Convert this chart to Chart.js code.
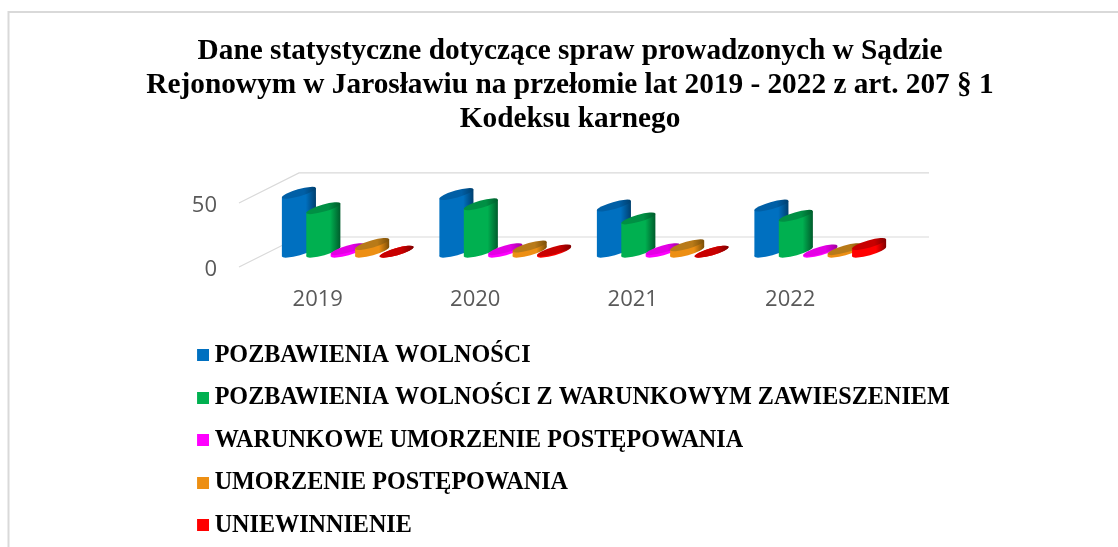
<!DOCTYPE html>
<html><head><meta charset="utf-8">
<style>html,body{margin:0;padding:0;background:#fff}canvas{display:block}</style>
<script src="https://cdn.jsdelivr.net/npm/chart.js@4"></script>
</head><body><canvas id="c" width="1118" height="547"></canvas>
<script>
const categories = ['2019','2020','2021','2022'];
const seriesNames = ['POZBAWIENIA WOLNOŚCI','POZBAWIENIA WOLNOŚCI Z WARUNKOWYM ZAWIESZENIEM','WARUNKOWE UMORZENIE POSTĘPOWANIA','UMORZENIE POSTĘPOWANIA','UNIEWINNIENIE'];
const pozbawienia = [46,45,36,36];
const warunkowe = [34,37,26,28];
const warunkoweUmorzenie = [2,2,2,1];
const umorzenie = [6,4,5,2];
const uniewinnienie = [0,1,0,6];
const values = [pozbawienia,warunkowe,warunkoweUmorzenie,umorzenie,uniewinnienie];
const colors = ['#0070C0','#00B050','#FF00FF','#ED8F13','#FF0000'];
const tops = ['#005FA6','#009044','#E400E4','#B87A18','#C80000'];
const darks = ['#003F6E','#005C2C','#A000A0','#7A4E08','#800000'];
const titleLines = ['Dane statystyczne dotyczące spraw prowadzonych w Sądzie','Rejonowym w Jarosławiu na przełomie lat 2019 - 2022 z art. 207 § 1','Kodeksu karnego'];

const DEPTH_X = 60, DEPTH_Y = -30, MID_X = 30, MID_Y = -15.3, TILT = -16 * Math.PI / 180, MINOR = 3.6;

const marks = colors.map(col => {
  const m = document.createElement('canvas');
  m.width = 14; m.height = 12;
  const g = m.getContext('2d'); g.fillStyle = col; g.fillRect(2,0,12,12);
  return m;
});

function ellipse(ctx,x,y,a){ctx.beginPath();ctx.ellipse(x,y,a,MINOR,TILT,0,Math.PI*2);}

const wall3d = {
  id:'wall3d',
  beforeDraw(chart){
    const ctx = chart.ctx;
    ctx.save();
    ctx.strokeStyle='#D9D9D9';ctx.lineWidth=2;
    ctx.beginPath();ctx.moveTo(8.5,547);ctx.lineTo(8.5,12);ctx.lineTo(1118,12);ctx.stroke();
    ctx.restore();
  },
  beforeDatasetDraw(){return false;},
  beforeDatasetsDraw(chart){
    const ctx = chart.ctx, {left,right} = chart.chartArea, y = chart.scales.y;
    ctx.save();
    ctx.strokeStyle='#D9D9D9';ctx.lineWidth=1.2;
    y.ticks.forEach(t=>{
      const p = y.getPixelForValue(t.value);
      ctx.beginPath();
      ctx.moveTo(left,p);
      ctx.lineTo(left+DEPTH_X,p+DEPTH_Y);
      ctx.lineTo(right+DEPTH_X,p+DEPTH_Y);
      ctx.stroke();
    });
    ctx.restore();
  },
  afterDatasetsDraw(chart){
    const ctx = chart.ctx;
    const cos = Math.cos(TILT), sin = Math.sin(TILT);
    categories.forEach((_,j)=>{
      values.forEach((__,i)=>{
        const el = chart.getDatasetMeta(i).data[j];
        const a = el.width/2;
        const x = el.x+MID_X, yb = el.base+MID_Y, yt = el.y+MID_Y;
        const hw = Math.sqrt(a*a*cos*cos+MINOR*MINOR*sin*sin);
        const off = (a*a-MINOR*MINOR)*sin*cos/hw;
        const g = ctx.createLinearGradient(x-hw,0,x+hw,0);
        g.addColorStop(0,colors[i]);
        g.addColorStop(0.7,colors[i]);
        g.addColorStop(1,darks[i]);
        ctx.save();
        ctx.fillStyle=g;
        ellipse(ctx,x,yb,a);ctx.fill();
        ctx.beginPath();
        ctx.moveTo(x-hw,yb-off);ctx.lineTo(x-hw,yt-off);
        ctx.lineTo(x+hw,yt+off);ctx.lineTo(x+hw,yb+off);
        ctx.closePath();ctx.fill();
        const tg = ctx.createLinearGradient(x-hw,0,x+hw,0);
        tg.addColorStop(0,tops[i]);
        tg.addColorStop(0.65,tops[i]);
        tg.addColorStop(1,darks[i]);
        ctx.fillStyle=tg;
        ellipse(ctx,x,yt,a);ctx.fill();
        ctx.restore();
      });
    });
  },
  afterLayout(chart){
    const l = chart.legend;
    l.maxHeight = 400; l.maxWidth = 1000;
    l.fit();
    l.left = 183.2; l.top = 324.85; l.right = l.left+l.width; l.bottom = l.top+l.height;
    l.adjustHitBoxes();
    const t = chart.titleBlock;
    t.left = 0; t.right = 1140;
  }
};

new Chart(document.getElementById('c'),{
  type:'bar',
  data:{labels:categories,datasets:seriesNames.map((n,i)=>({label:n,data:values[i],backgroundColor:colors[i],borderWidth:0,categoryPercentage:0.775,barPercentage:1.45}))},
  plugins:[wall3d],
  options:{
    responsive:false,animation:false,
    layout:{padding:{left:170,right:249,top:0,bottom:240}},
    plugins:{
      tooltip:{enabled:false},
      title:{display:true,text:titleLines,color:'#000',font:{family:'"Liberation Serif"',size:29.3,weight:'bold',lineHeight:1.16},padding:{top:34.5,bottom:66.5}},
      legend:{
        position:'chartArea',align:'start',
        labels:{
          font:{family:'"Liberation Serif"',size:24.15,weight:'bold'},color:'#000',
          usePointStyle:true,pointStyleWidth:1,padding:18.35,
          generateLabels(chart){
            const a = Chart.defaults.plugins.legend.labels.generateLabels(chart);
            a.forEach(l=>{l.pointStyle=marks[l.datasetIndex];});
            return a;
          }
        }
      }
    },
    scales:{
      x:{
        grid:{display:false},border:{display:false},
        ticks:{color:'#595959',font:{family:'"Open Sans"',size:22},padding:12,maxRotation:0},
        afterFit(s){s.height=40;}
      },
      y:{
        min:0,max:50,
        grid:{display:false},border:{display:false},
        ticks:{stepSize:50,color:'#595959',font:{family:'"Open Sans"',size:22},padding:14,labelOffset:3},
        afterFit(s){s.width=69;}
      }
    }
  }
});
</script></body></html>
